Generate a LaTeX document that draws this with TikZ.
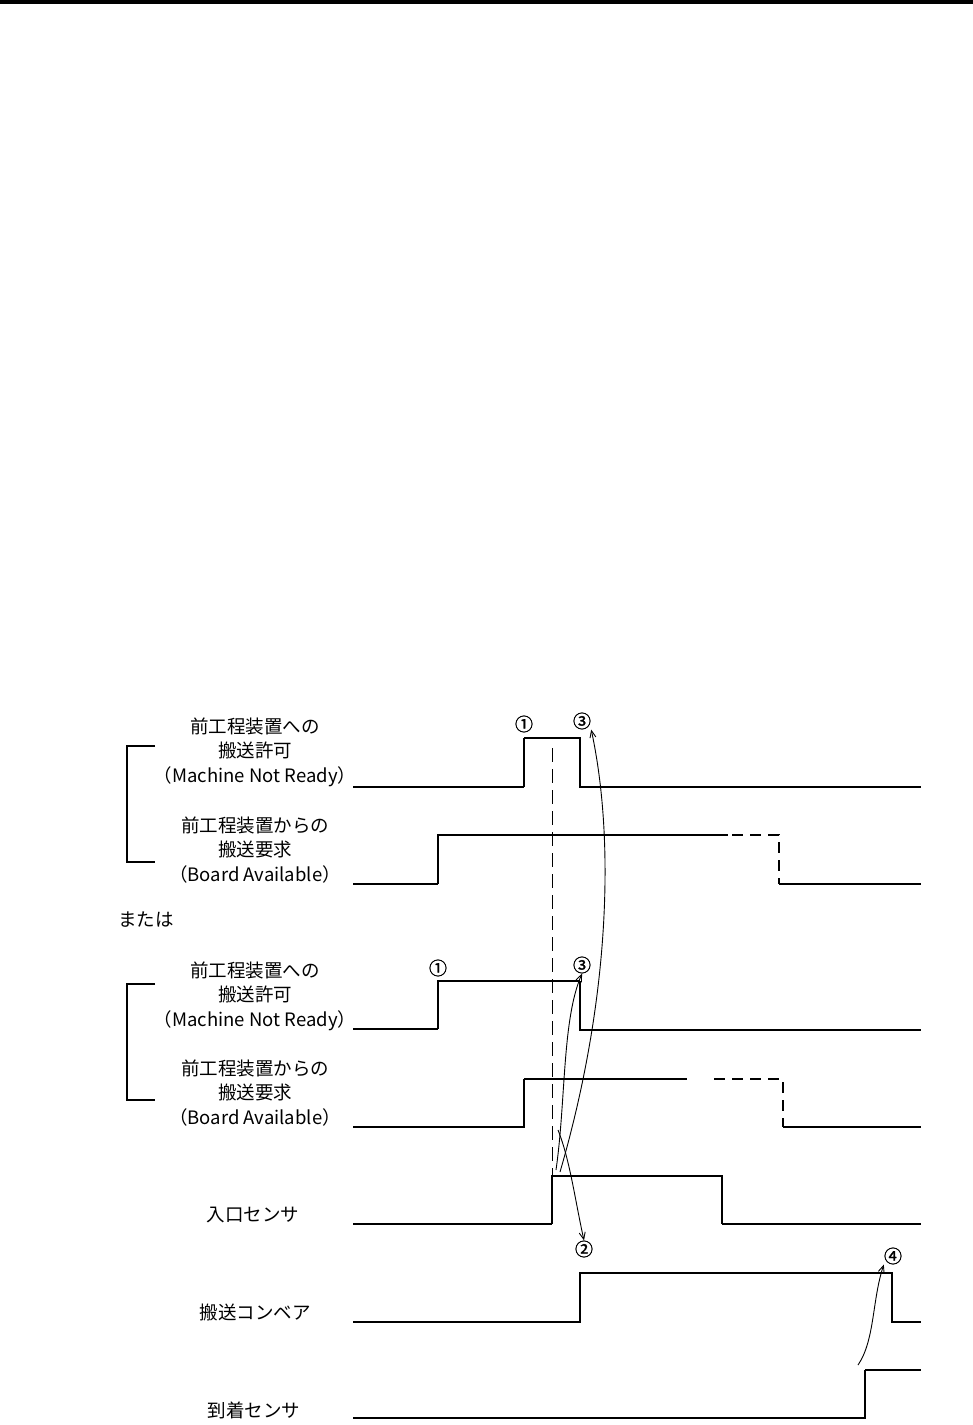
\documentclass[tikz,border=0pt]{standalone}
\usepackage{fontspec}
\newfontfamily\jp{Noto Sans CJK JP}
\newfontfamily\jpb[FakeBold=1.5]{Noto Sans CJK JP}
\usetikzlibrary{arrows.meta}
\begin{document}
\begin{tikzpicture}[x=1pt,y=-1pt,
  lbl/.style={font=\jp\fontsize{18.5}{24.5}\selectfont,align=center,inner sep=0pt},
  num/.style={font=\jpb\fontsize{18}{18}\selectfont,inner sep=0pt},
  sig/.style={line width=1.3pt},
  sigthick/.style={line width=2pt},
  dsig/.style={line width=1.3pt,dash pattern=on 11pt off 7pt},
  brk/.style={line width=2.6pt},
  guide/.style={line width=1pt,dash pattern=on 14pt off 7pt},
  hand/.style={line width=0.9pt,-{Straight Barb[length=7pt,width=6pt]}}]
\useasboundingbox (0,0) rectangle (973,1425);
\fill[black] (0,0) rectangle (973,4);

% labels
\node[lbl] (l1) at (255,752) {前工程装置への\\搬送許可\\（Machine Not Ready）};
\node[lbl] (l2) at (255,850) {前工程装置からの\\搬送要求\\（Board Available）};
\node[lbl,anchor=west] (or) at (118,920) {または};
\node[lbl] (l3) at (255,996) {前工程装置への\\搬送許可\\（Machine Not Ready）};
\node[lbl] (l4) at (255,1093) {前工程装置からの\\搬送要求\\（Board Available）};
\node[lbl] (l5) at (253,1215) {入口センサ};
\node[lbl] (l6) at (255,1312) {搬送コンベア};
\node[lbl] (l7) at (254,1410) {到着センサ};

% brackets
\draw[brk] (155,746) -- (127,746) -- (127,862) -- (155,862);
\draw[brk] (155,984) -- (127,984) -- (127,1100) -- (155,1100);

% signal 1
\draw[sig] (353,787) -- (524,787);
\draw[sigthick] (524,787) -- (524,738);
\draw[sig] (524,738) -- (580,738) -- (580,787) -- (921,787);
% signal 2
\draw[sig] (353,884) -- (438,884);
\draw[sigthick] (438,884) -- (438,835) -- (728,835);
\draw[dsig] (732,835) -- (779,835) -- (779,884);
\draw[sig] (779,884) -- (921,884);
% signal 3
\draw[sig] (353,1029) -- (438,1029);
\draw[sigthick] (438,1029) -- (438,981) -- (580,981);
\draw[sig] (580,981) -- (580,1030) -- (921,1030);
% signal 4
\draw[sigthick] (353,1127) -- (524,1127) -- (524,1079);
\draw[sig] (524,1079) -- (687,1079);
\draw[dsig] (714,1079) -- (783,1079) -- (783,1127);
\draw[sigthick] (783,1127) -- (921,1127);
% signal 5
\draw[sigthick] (353,1224) -- (552,1224);
\draw[sig] (552,1224) -- (552,1176) -- (722,1176) -- (722,1224);
\draw[sigthick] (722,1224) -- (921,1224);
% signal 6
\draw[sig] (353,1322) -- (580,1322) -- (580,1273) -- (892,1273) -- (892,1322) -- (921,1322);
% signal 7
\draw[sig] (353,1418) -- (865,1418) -- (865,1370);
\draw[sigthick] (865,1370) -- (921,1370);

% guide
\draw[guide] (552,748) -- (552,1176);

% numbers
\node[num] (n1a) at (524,724) {①};
\node[num] (n3a) at (582,721) {③};
\node[num] (n1b) at (438,968) {①};
\node[num] (n3b) at (582,965) {③};
\node[num] (n2) at (584,1249) {②};
\node[num] (n4) at (893,1256) {④};

% hand-drawn arrows
\coordinate (aS) at (560,1172);
\coordinate (bS) at (556,1170);
\coordinate (cS) at (558,1130);
\coordinate (dS) at (858,1365);
\draw[hand] (aS) .. controls (610,1000) and (615,840) .. (n3a.south east);
\draw[hand] (bS) .. controls (566,1100) and (562,1020) .. (n3b.south);
\draw[hand] (cS) .. controls (570,1160) and (575,1200) .. (n2.north);
\draw[hand] (dS) .. controls (875,1340) and (872,1300) .. (n4.south west);
\end{tikzpicture}
\end{document}
